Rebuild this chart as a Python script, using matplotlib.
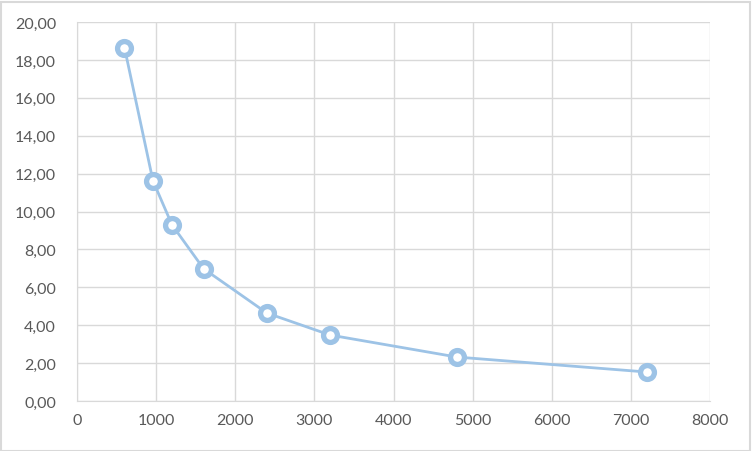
import matplotlib
matplotlib.use("Agg")
import matplotlib.pyplot as plt
from matplotlib.patches import Rectangle

x_vals = [600, 960, 1200, 1600, 2400, 3200, 4800, 7200]
y_vals = [18.65, 11.62, 9.3, 6.98, 4.64, 3.48, 2.32, 1.53]
x_ticks = [0, 1000, 2000, 3000, 4000, 5000, 6000, 7000, 8000]
y_ticks = [0, 2, 4, 6, 8, 10, 12, 14, 16, 18, 20]

plt.rcParams['font.family'] = ['Lato', 'DejaVu Sans']

fig = plt.figure(figsize=(7.52, 4.52), dpi=100)
ax = fig.add_axes([77/752, 50/452, (710-77)/752, (402-23)/452])

grid_c = '#D9D9D9'
line_c = '#9DC3E6'

ax.plot(x_vals, y_vals, color=line_c, lw=2.0, zorder=3,
        marker='o', markersize=10, markerfacecolor='white',
        markeredgecolor=line_c, markeredgewidth=3.8)

ax.set_xlim(0, 8000)
ax.set_ylim(0, 20)
ax.set_xticks(x_ticks)
ax.set_yticks(y_ticks)
ax.set_xticklabels([str(t) for t in x_ticks])
ax.set_yticklabels([f"{t:.2f}".replace('.', ',') for t in y_ticks])
ax.grid(True, color=grid_c, lw=1)
ax.set_axisbelow(True)
for s in ax.spines.values():
    s.set_visible(False)
ax.spines['bottom'].set_visible(True)
ax.spines['bottom'].set_color(grid_c)
ax.spines['left'].set_visible(True)
ax.spines['left'].set_color(grid_c)
ax.tick_params(length=0, labelsize=11.5, colors='#595959', pad=9)
ax.tick_params(axis='y', pad=15)

fig.patches.append(Rectangle((0.5/752, 0.5/452), 1 - 3/752, 1 - 3/452,
                             transform=fig.transFigure, fill=False,
                             edgecolor='#D9D9D9', lw=1.5))

fig.savefig('out.png', dpi=100, facecolor='white')
